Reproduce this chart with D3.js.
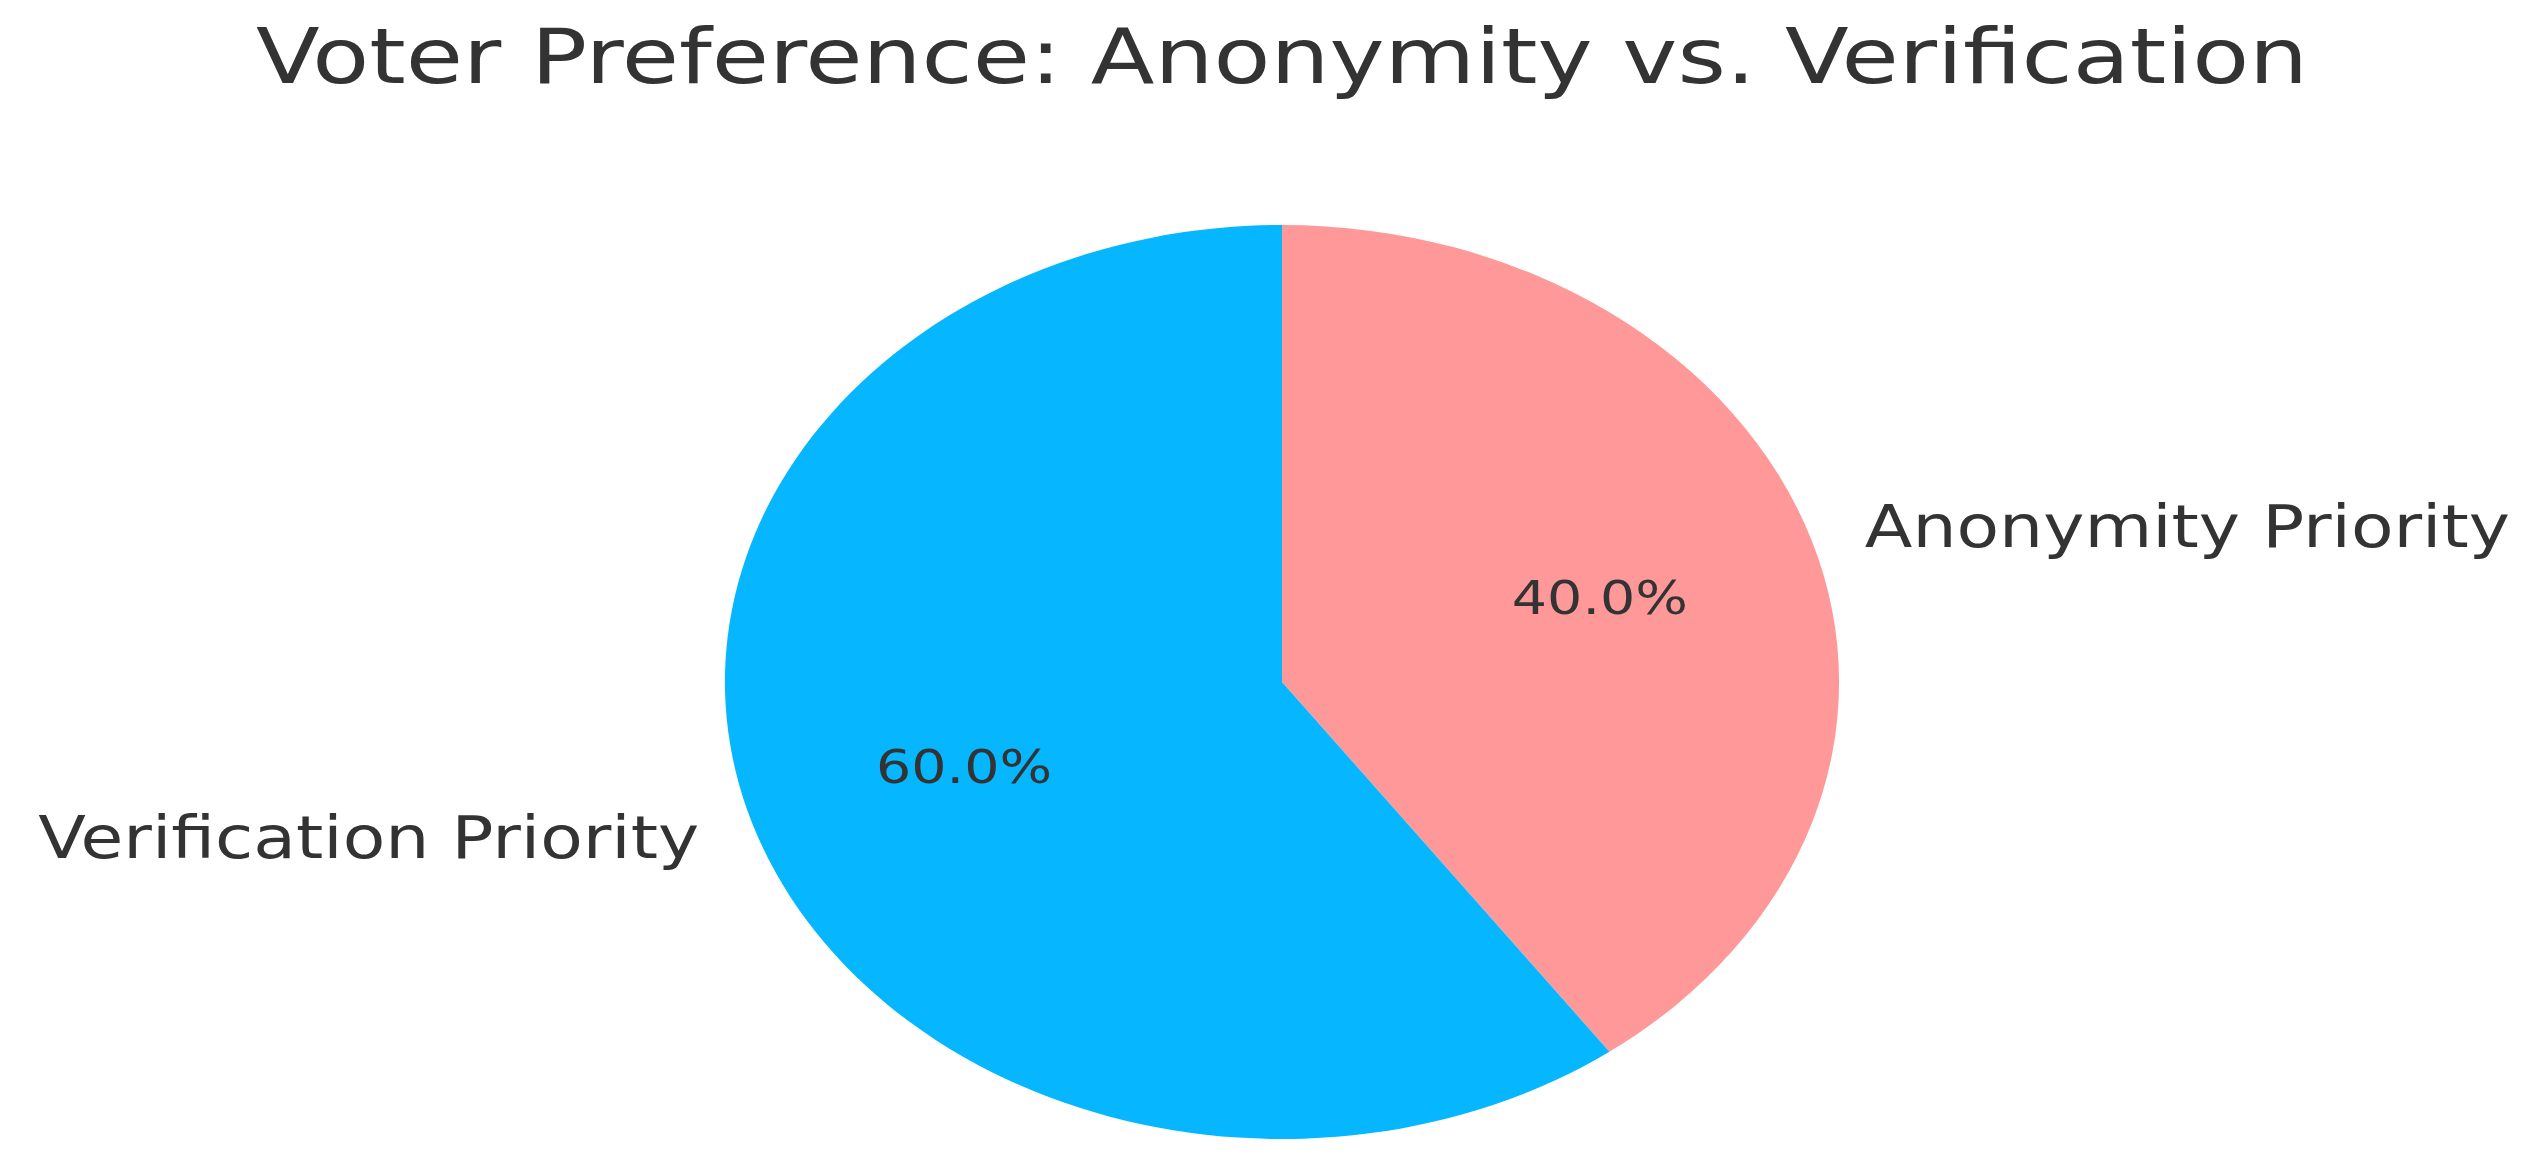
<!DOCTYPE html>
<html>
<head>
<meta charset="utf-8">
<script src="https://cdn.jsdelivr.net/npm/d3@7"></script>
<style>
  html, body { margin: 0; padding: 0; background: #fff; }
  svg { display: block; }
  text { font-family: "DejaVu Sans", sans-serif; fill: #333; }
</style>
</head>
<body>
<svg width="2531" height="1173"></svg>
<script>
// data
var categories = ['Anonymity Priority', 'Verification Priority'];
var values = [40, 60];
var colors = ['#ff9999', '#06b6ff'];
var title = 'Voter Preference: Anonymity vs. Verification';

var svg = d3.select('svg');
var cx = 1282, cy = 682;
var r = 457;          // vertical radius
var sx = 1.219;       // picture is stretched sideways
var tsx = 1.18;       // text stretch

var pie = d3.pie().sort(null).value(function(d) { return d; });
var arcs = pie(values);
var arc = d3.arc().innerRadius(0).outerRadius(r);

svg.append('g')
  .attr('transform', 'translate(' + cx + ',' + cy + ') scale(' + sx + ',1)')
  .selectAll('path')
  .data(arcs)
  .enter()
  .append('path')
  .attr('d', arc)
  .attr('fill', function(d, i) { return colors[i]; });

function pos(a, k) {
  return [cx + sx * r * k * Math.sin(a), cy - r * k * Math.cos(a)];
}

function addText(x, y, txt, size, anchor) {
  svg.append('g')
    .attr('transform', 'translate(' + x + ',' + y + ') scale(' + tsx + ',1)')
    .append('text')
    .attr('text-anchor', anchor)
    .attr('dominant-baseline', 'central')
    .style('font-size', size + 'px')
    .text(txt);
}

var total = d3.sum(values);
arcs.forEach(function(d, i) {
  var mid = (d.startAngle + d.endAngle) / 2;
  var p = pos(mid, 0.6);
  addText(p[0], p[1], (d.value / total * 100).toFixed(1) + '%', 47, 'middle');
  var q = pos(mid, 1.1);
  addText(q[0], q[1], categories[i], 59, Math.sin(mid) > 0 ? 'start' : 'end');
});

svg.append('g')
  .attr('transform', 'translate(' + cx + ',83) scale(1.225,1)')
  .append('text')
  .attr('text-anchor', 'middle')
  .style('font-size', '76px')
  .text(title);
</script>
</body>
</html>
